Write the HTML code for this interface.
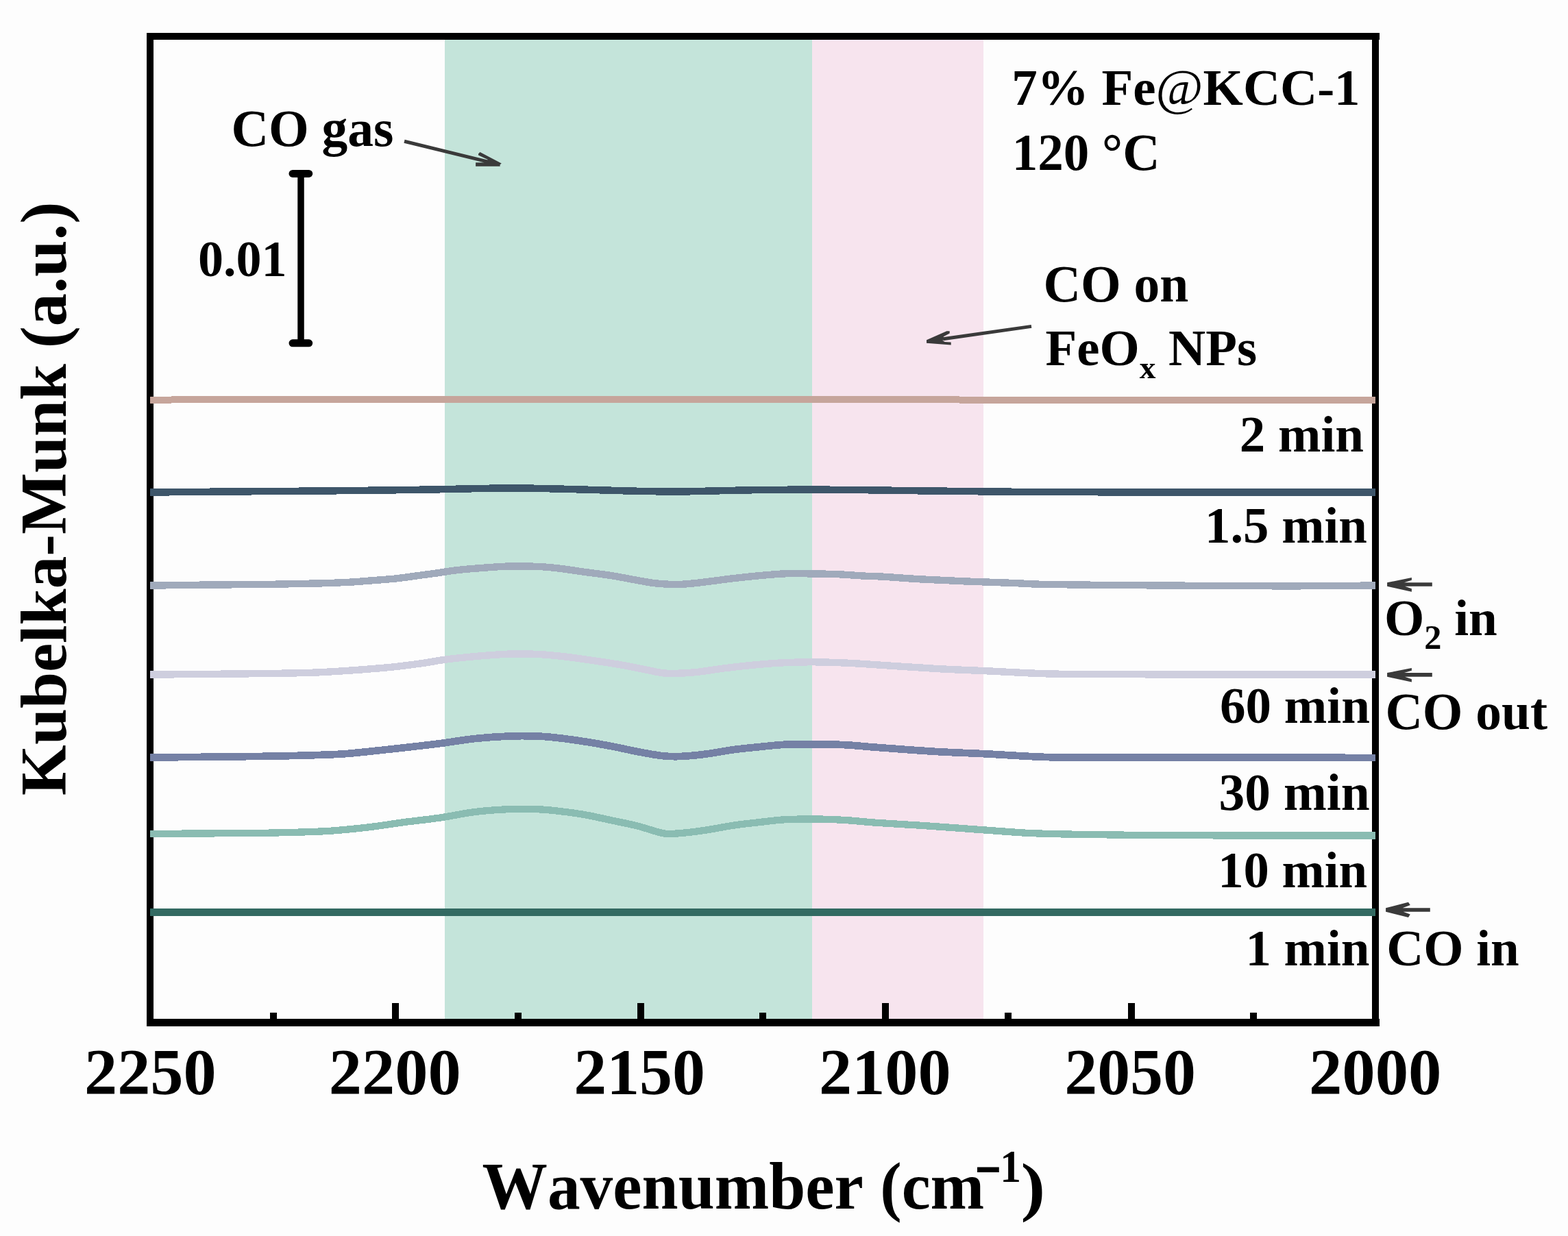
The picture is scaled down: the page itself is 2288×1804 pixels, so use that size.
<!DOCTYPE html>
<html><head><meta charset="utf-8"><title>Kubelka-Munk spectra</title>
<style>
html,body{margin:0;padding:0;background:#fdfdfd;}
body{width:2288px;height:1804px;overflow:hidden;}
svg{display:block;}
text{font-family:"Liberation Serif", "Times New Roman", serif;font-weight:bold;fill:#000;font-kerning:none;}
</style></head><body>
<svg width="2288" height="1804" viewBox="0 0 2288 1804">
<rect x="0" y="0" width="2288" height="1804" fill="#fdfdfd"/>
<rect x="649" y="58" width="536" height="1429" fill="#c4e4da"/>
<rect x="1185" y="58" width="250" height="1429" fill="#f7e4ee"/>
<g fill="#000" shape-rendering="crispEdges">
<rect x="214" y="48" width="1799" height="10"/>
<rect x="214" y="1487" width="1799" height="11"/>
<rect x="214" y="48" width="10" height="1450"/>
<rect x="2002" y="48" width="10" height="1450"/>
<rect x="394" y="1478" width="10" height="10"/>
<rect x="572" y="1464" width="10" height="24"/>
<rect x="751" y="1478" width="10" height="10"/>
<rect x="930" y="1464" width="10" height="24"/>
<rect x="1108" y="1478" width="10" height="10"/>
<rect x="1287" y="1464" width="10" height="24"/>
<rect x="1466" y="1478" width="10" height="10"/>
<rect x="1646" y="1464" width="10" height="24"/>
<rect x="1824" y="1478" width="10" height="10"/>
</g>
<g fill="none" stroke-linejoin="round" stroke-linecap="butt" shape-rendering="crispEdges">
<path d="M219,584 C229.3,583.83 239.7,583.52 250,583.5 C400.0,583.28 550.0,583.56 700,583.3 C720.0,583.26 740.0,582.65 760,582.6 C783.3,582.55 806.7,582.97 830,583 C1020.0,583.27 1210.0,583.37 1400,583.5 C1602.3,583.64 1804.7,583.70 2007,583.8" stroke="#c6a59b" stroke-width="10.0"/>
<path d="M219,718.5 C266.0,718.10 313.0,717.67 360,717.3 C396.7,717.01 433.3,716.83 470,716.5 C500.0,716.23 530.0,715.89 560,715.5 C586.7,715.15 613.3,714.78 640,714.3 C660.0,713.94 680.0,713.35 700,713 C716.7,712.71 733.3,712.37 750,712.4 C766.7,712.43 783.3,712.85 800,713.2 C816.7,713.55 833.3,714.03 850,714.5 C866.7,714.97 883.3,715.54 900,716 C913.3,716.37 926.7,716.78 940,717 C956.7,717.28 973.3,717.58 990,717.5 C1006.7,717.42 1023.3,716.85 1040,716.5 C1055.0,716.18 1070.0,715.78 1085,715.5 C1100.0,715.22 1115.0,714.87 1130,714.8 C1163.3,714.64 1196.7,714.63 1230,714.8 C1250.0,714.90 1270.0,715.33 1290,715.6 C1310.0,715.87 1330.0,716.16 1350,716.4 C1380.0,716.76 1410.0,717.12 1440,717.4 C1473.3,717.72 1506.7,718.14 1540,718.2 C1695.7,718.50 1851.3,718.40 2007,718.5" stroke="#3e566a" stroke-width="10.5"/>
<path d="M219,854.6 C243.0,854.30 267.0,853.95 291,853.7 C328.0,853.32 365.0,853.19 402,852.7 C425.0,852.39 448.0,851.95 471,851.3 C484.7,850.91 498.3,850.35 512,849.6 C521.3,849.09 530.7,848.24 540,847.5 C552.7,846.50 565.3,845.74 578,844.4 C589.0,843.24 600.0,841.48 611,840 C620.3,838.75 629.7,837.52 639,836.2 C648.3,834.88 657.7,833.13 667,832.1 C680.7,830.59 694.3,829.61 708,828.6 C719.7,827.74 731.3,826.74 743,826.5 C757.3,826.21 771.7,826.39 786,827 C796.0,827.42 806.0,828.42 816,829.6 C828.7,831.09 841.3,833.25 854,835 C866.7,836.75 879.3,838.10 892,840.1 C904.7,842.10 917.3,844.78 930,847 C938.7,848.52 947.3,850.36 956,851.3 C966.0,852.39 976.0,852.98 986,853.1 C992.9,853.18 999.7,852.51 1006.6,851.9 C1015.1,851.15 1023.5,850.03 1032,849 C1044.7,847.46 1057.3,845.67 1070,844.2 C1082.7,842.73 1095.3,841.35 1108,840.2 C1120.7,839.05 1133.3,837.83 1146,837.3 C1156.3,836.87 1166.7,837.18 1177,837.3 C1192.2,837.48 1207.3,837.60 1222.5,838.2 C1235.2,838.70 1247.9,839.93 1260.6,840.6 C1268.7,841.03 1276.9,841.03 1285,841.5 C1304.0,842.60 1323.0,844.23 1342,845.3 C1364.0,846.53 1386.0,847.49 1408,848.4 C1431.0,849.35 1454.0,849.99 1477,850.9 C1491.0,851.45 1505.0,852.53 1519,852.8 C1560.7,853.60 1602.3,853.80 1644,854.1 C1722.3,854.67 1800.7,855.31 1879,855.4 C1921.7,855.45 1964.3,854.80 2007,854.5" stroke="#a0aabb" stroke-width="10.4"/>
<path d="M219,984.6 C270.7,984.13 322.3,983.83 374,983.2 C401.3,982.87 428.7,982.63 456,981.7 C474.7,981.06 493.3,979.80 512,978.5 C531.7,977.13 551.3,975.67 571,973.7 C586.0,972.20 601.0,970.20 616,968.1 C627.0,966.56 638.0,964.23 649,962.8 C663.3,960.93 677.7,959.45 692,958.2 C709.0,956.72 726.0,955.18 743,954.6 C757.3,954.11 771.7,954.33 786,955 C798.7,955.59 811.3,956.95 824,958.4 C838.3,960.05 852.7,962.21 867,964.3 C879.7,966.15 892.3,967.98 905,970.2 C917.7,972.42 930.3,975.17 943,977.6 C951.5,979.23 960.0,981.57 968.5,982.4 C977.0,983.23 985.5,982.89 994,982.6 C1002.3,982.32 1010.7,981.67 1019,980.7 C1031.7,979.23 1044.3,976.91 1057,975.3 C1069.8,973.67 1082.7,972.26 1095.5,971 C1108.2,969.76 1120.9,968.57 1133.6,967.8 C1146.3,967.03 1159.0,966.68 1171.7,966.4 C1180.1,966.21 1188.6,966.24 1197,966.4 C1209.7,966.64 1222.3,967.01 1235,967.6 C1248.7,968.24 1262.3,969.23 1276,970.1 C1306.2,972.03 1336.4,974.30 1366.6,976 C1389.7,977.30 1412.9,978.06 1436,979.1 C1468.3,980.56 1500.7,982.78 1533,983.5 C1579.0,984.52 1625.0,984.22 1671,984.3 C1783.0,984.49 1895.0,984.30 2007,984.3" stroke="#cecede" stroke-width="10.4"/>
<path d="M219,1105.5 C257.0,1105.17 295.0,1104.89 333,1104.5 C356.0,1104.26 379.0,1104.02 402,1103.6 C420.5,1103.26 439.1,1102.79 457.6,1102.2 C471.6,1101.76 485.5,1101.43 499.5,1100.5 C513.0,1099.60 526.5,1098.09 540,1096.7 C557.0,1094.95 574.0,1093.02 591,1091.1 C607.9,1089.19 624.8,1087.36 641.7,1085.2 C658.6,1083.03 675.6,1079.89 692.5,1078.1 C709.3,1076.32 726.2,1075.13 743,1074.5 C757.2,1073.97 771.5,1074.07 785.7,1074.6 C795.8,1074.97 805.9,1076.03 816,1077.2 C828.7,1078.67 841.3,1080.52 854,1082.5 C866.7,1084.48 879.3,1086.68 892,1089.1 C904.7,1091.52 917.3,1094.57 930,1097 C941.2,1099.14 952.3,1101.31 963.5,1102.8 C970.3,1103.71 977.2,1104.15 984,1104.2 C991.5,1104.25 999.1,1103.71 1006.6,1103.1 C1015.1,1102.41 1023.5,1101.49 1032,1100.3 C1044.7,1098.52 1057.3,1095.90 1070,1094.2 C1082.7,1092.50 1095.3,1091.35 1108,1090.1 C1120.7,1088.85 1133.3,1087.24 1146,1086.7 C1163.0,1085.97 1180.0,1086.19 1197,1086.3 C1209.7,1086.39 1222.3,1086.61 1235,1087.3 C1248.7,1088.04 1262.3,1089.59 1276,1090.6 C1306.2,1092.83 1336.4,1095.19 1366.6,1097 C1389.7,1098.39 1412.9,1099.06 1436,1100.2 C1468.3,1101.79 1500.7,1104.42 1533,1105.2 C1574.3,1106.19 1615.7,1105.44 1657,1105.5 C1773.7,1105.67 1890.3,1105.77 2007,1105.9" stroke="#7581a5" stroke-width="10.7"/>
<path d="M219,1216.9 C270.7,1216.57 322.3,1216.46 374,1215.9 C396.3,1215.66 418.7,1215.17 441,1214.5 C455.3,1214.07 469.7,1213.67 484,1212.6 C502.7,1211.20 521.3,1209.32 540,1207.1 C557.0,1205.08 574.0,1202.16 591,1199.9 C607.9,1197.66 624.8,1196.06 641.7,1193.6 C658.6,1191.13 675.6,1187.19 692.5,1185.1 C709.3,1183.02 726.2,1181.79 743,1181.1 C757.2,1180.52 771.5,1180.75 785.7,1181.3 C795.8,1181.69 805.9,1182.72 816,1183.9 C828.7,1185.38 841.3,1187.07 854,1189.3 C866.7,1191.53 879.3,1194.60 892,1197.3 C904.7,1200.00 917.3,1202.34 930,1205.5 C942.8,1208.70 955.7,1213.86 968.5,1216.4 C974.3,1217.56 980.2,1216.86 986,1216.6 C992.9,1216.29 999.7,1215.49 1006.6,1214.7 C1015.1,1213.72 1023.5,1212.64 1032,1211.3 C1044.7,1209.30 1057.3,1206.57 1070,1204.7 C1082.7,1202.83 1095.3,1201.52 1108,1200.1 C1120.7,1198.68 1133.3,1196.84 1146,1196.2 C1163.0,1195.34 1180.0,1195.43 1197,1195.6 C1209.7,1195.73 1222.3,1196.30 1235,1197.1 C1248.7,1197.96 1262.3,1199.64 1276,1200.6 C1300.3,1202.31 1324.7,1203.46 1349,1205.1 C1378.0,1207.06 1407.0,1209.36 1436,1211.4 C1459.0,1213.02 1482.0,1215.11 1505,1216.1 C1533.9,1217.34 1562.7,1217.69 1591.6,1218.1 C1637.7,1218.76 1683.9,1219.14 1730,1219.3 C1822.3,1219.61 1914.7,1219.43 2007,1219.5" stroke="#8abcb2" stroke-width="10.3"/>
<path d="M219,1331.4 L2007,1331.6" stroke="#336a62" stroke-width="10.9"/>
</g>
<g stroke="#000" stroke-linecap="round" fill="none">
<line x1="439" y1="253.4" x2="439" y2="500.8" stroke-width="9.5" stroke-linecap="butt"/>
<line x1="427" y1="253.4" x2="450.7" y2="253.4" stroke-width="11"/>
<line x1="427" y1="500.8" x2="450.7" y2="500.8" stroke-width="11"/>
</g>
<g stroke="#3a3a3a" fill="none" stroke-linecap="butt">
<line x1="590" y1="206.3" x2="714" y2="236.6" stroke-width="5"/>
<line x1="1376" y1="494.8" x2="1505" y2="476.4" stroke-width="5"/>
</g>
<g stroke="none">
<polygon points="700.4,221.9 731.8,238.5 729.6,240.2 729.6,242.7 694.1,242.7 694.1,237.3 706,237.3 712,233 698,226.6 698,224.4" fill="#3a3a3a"/>
<polygon points="1352,496.2 1381.5,483.2 1385.7,483.2 1385.7,486.5 1376.9,491.2 1375.7,497.2 1378.8,499 1387.7,499.5 1387.7,503.6 1352,500.7" fill="#3a3a3a"/>
<polygon points="2024.1,850.2 2059.9,843.1 2059.9,846.8 2049,850.2 2089.8,850.2 2089.8,855.8 2050,855.8 2059.9,859.3 2059.9,863.7 2024.1,855.8" fill="#3a3a3a"/>
<polygon points="2024.1,982.1 2059.9,975 2059.9,978.7 2049,982.1 2089.8,982.1 2089.8,987.7 2050,987.7 2059.9,991.2 2059.9,995.6 2024.1,987.7" fill="#3a3a3a"/>
<polygon points="2022.1,1325.2 2055,1316.8 2057.8,1321 2046.6,1325.2 2086.8,1325.2 2086.8,1330.8 2047.6,1330.8 2057.8,1334.6 2055,1338.9 2022.1,1330.8" fill="#3a3a3a"/>
</g>
<text id="t_fe" x="1474" y="153.6" font-size="77.5" text-anchor="start" transform="matrix(0.96731 0 0 0.96731 50.514 4.421)">7% Fe<tspan font-weight="normal">@</tspan>KCC-1</text>
<text id="t_120" x="1476" y="247.6" font-size="77.5" text-anchor="start" transform="matrix(0.96919 0 0 0.96919 46.154 7.627)">120 °C</text>
<text id="t_cogas" x="335" y="213.5" font-size="77.5" text-anchor="start" transform="matrix(0.97468 0 0 0.97468 10.882 5.405)">CO gas</text>
<text id="t_001" x="286" y="403.4" font-size="77.5" text-anchor="start" transform="matrix(0.95659 0 0 0.95659 15.346 17.512)">0.01</text>
<text id="t_coon" x="1520" y="439.6" font-size="77.5" text-anchor="start" transform="matrix(0.97406 0 0 0.97406 41.938 11.405)">CO on</text>
<text id="t_feox" x="1520" y="533.3" font-size="77.5" text-anchor="start" transform="matrix(0.96646 0 0 0.96646 56.421 17.889)">FeO<tspan font-size="49" dy="19">x</tspan><tspan dy="-19"> NPs</tspan></text>
<text id="t_2min" x="1990" y="659.3" font-size="77.5" text-anchor="end" transform="matrix(0.96667 0 0 0.96667 66.200 21.977)">2 min</text>
<text id="t_15min" x="1995" y="792.1" font-size="77.5" text-anchor="end" transform="matrix(0.96513 0 0 0.96513 69.439 27.624)">1.5 min</text>
<text id="t_60min" x="1999" y="1055.2" font-size="77.5" text-anchor="end" transform="matrix(0.96847 0 0 0.96847 63.000 33.272)">60 min</text>
<text id="t_30min" x="1999" y="1181.7" font-size="77.5" text-anchor="end" transform="matrix(0.97342 0 0 0.97342 52.800 31.406)">30 min</text>
<text id="t_10min" x="1995" y="1295.3" font-size="77.5" text-anchor="end" transform="matrix(0.96438 0 0 0.96438 71.219 46.134)">10 min</text>
<text id="t_1min" x="1999" y="1409.1" font-size="77.5" text-anchor="end" transform="matrix(0.96667 0 0 0.96667 66.100 46.970)">1 min</text>
<text id="t_o2in" x="2018" y="927.3" font-size="77.5" text-anchor="start" transform="matrix(0.96848 0 0 0.96848 65.524 29.224)">O<tspan font-size="52" dy="20.6">2</tspan><tspan dy="-20.6"> in</tspan></text>
<text id="t_coout" x="2019" y="1064.3" font-size="77.5" text-anchor="start" transform="matrix(0.97322 0 0 0.97322 56.472 28.500)">CO out</text>
<text id="t_coin" x="2021" y="1409.1" font-size="77.5" text-anchor="start" transform="matrix(0.96667 0 0 0.96667 69.600 46.970)">CO in</text>
<text id="t_2250" x="220.25" y="1597" font-size="95" text-anchor="middle" transform="matrix(1.01421 0 0 0.99375 -4.033 9.588)">2250</text>
<text id="t_2200" x="577.75" y="1597" font-size="95" text-anchor="middle" transform="matrix(1.01484 0 0 0.99375 -10.125 9.588)">2200</text>
<text id="t_2150" x="935.25" y="1597" font-size="95" text-anchor="middle" transform="matrix(1.00929 0 0 0.99375 -10.840 9.588)">2150</text>
<text id="t_2100" x="1292.75" y="1597" font-size="95" text-anchor="middle" transform="matrix(1.01429 0 0 0.99375 -19.871 9.588)">2100</text>
<text id="t_2050" x="1650.25" y="1597" font-size="95" text-anchor="middle" transform="matrix(1.00929 0 0 0.99375 -16.483 9.588)">2050</text>
<text id="t_2000" x="2007.75" y="1597" font-size="95" text-anchor="middle" transform="matrix(1.01923 0 0 0.99375 -39.665 9.588)">2000</text>
<text id="t_wave" x="700" y="1764.8" font-size="97" text-anchor="start" transform="matrix(0.98348 0 0 0.99500 15.080 8.024)">Wavenumber</text>
<text id="t_cm" x="1285" y="1764.8" font-size="97" text-anchor="start" transform="matrix(0.97333 0 0 0.99500 33.573 7.924)">(cm</text>
<text id="t_minus" x="1425" y="1724" font-size="62" text-anchor="start" transform="matrix(1.10345 0 0 1.70000 -150.224 -1188.700)">−</text>
<text id="t_one" x="1460" y="1724" font-size="62" text-anchor="start" transform="matrix(0.99130 0 0 1.07500 12.039 -128.200)">1</text>
<text id="t_rp" x="1490" y="1764.8" font-size="97" text-anchor="start" transform="matrix(1.10400 0 0 0.97471 -155.372 44.038)">)</text>
<g id="t_km" transform="matrix(1.00000 0 0 0.99289 0.100 7.446)"><text transform="translate(96,1162) rotate(-90)" x="0" y="0" font-size="96">Kubelka-Munk</text></g>
<g id="t_au" transform="matrix(1.00000 0 0 1.00244 0.100 -3.034)"><text transform="translate(96,510) rotate(-90)" x="0" y="0" font-size="96">(a.u.)</text></g>
</svg>
</body></html>
